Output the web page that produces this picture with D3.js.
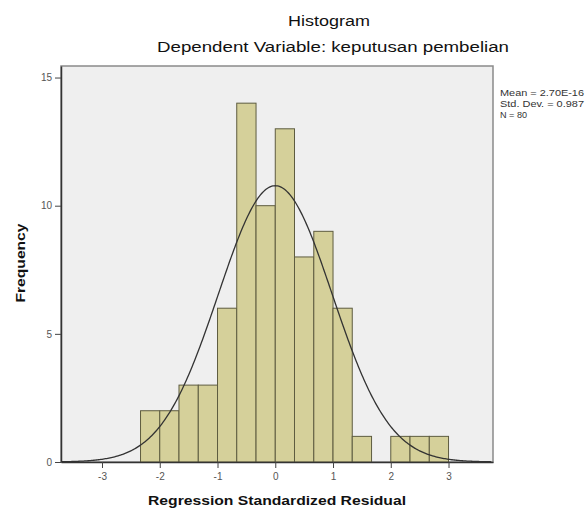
<!DOCTYPE html>
<meta charset="utf-8">
<script src="https://cdn.jsdelivr.net/npm/d3@7/dist/d3.min.js"></script>
<style>
body { margin: 0; background: #fff; }
text { font-family: Arial, "Liberation Sans", sans-serif; fill: #111; }
</style>
<body>
<script>

// bin edges (width 1/3) and frequencies
var binStart = [-2.333, -2, -1.667, -1.333, -1, -0.667, -0.333, 0, 0.333, 0.667, 1, 1.333, 1.667, 2, 2.333, 2.667];
var binEnd   = [-2, -1.667, -1.333, -1, -0.667, -0.333, 0, 0.333, 0.667, 1, 1.333, 1.667, 2, 2.333, 2.667, 3];
var counts   = [2, 2, 3, 3, 6, 14, 10, 13, 8, 9, 6, 1, 0, 1, 1, 1];
var xTicks = [-3, -2, -1, 0, 1, 2, 3];
var yTicks = [0, 5, 10, 15];
var statLines = ["Mean = 2.70E-16", "Std. Dev. = 0.987", "N = 80"];
var mean = 0, sd = 0.987, n = 80, binWidth = 1 / 3;

var width = 587, height = 511;
var svg = d3.select("body").append("svg")
    .attr("width", width)
    .attr("height", height);

var pLeft = 61, pRight = 493, pTop = 66, pBottom = 462;

var x = d3.scaleLinear().domain([-3.71, 3.77]).range([pLeft, pRight]);
var y = d3.scaleLinear().domain([0, 15.45]).range([pBottom, pTop]);

// panel
svg.append("rect")
    .attr("x", pLeft).attr("y", pTop)
    .attr("width", pRight - pLeft).attr("height", pBottom - pTop)
    .style("fill", "#efefef")
    .style("stroke", "#8a8a8a")
    .style("stroke-width", 1.5);

// bars
var bins = counts.map(function(c, i) { return {x0: binStart[i], x1: binEnd[i], c: c}; })
    .filter(function(d) { return d.c > 0; });

svg.append("g").selectAll("rect")
    .data(bins)
    .enter().append("rect")
    .attr("x", function(d) { return x(d.x0); })
    .attr("y", function(d) { return y(d.c); })
    .attr("width", function(d) { return x(d.x1) - x(d.x0); })
    .attr("height", function(d) { return y(0) - y(d.c); })
    .style("fill", "#d5d09a")
    .style("stroke", "#5e5c40")
    .style("stroke-width", 1);

// normal curve
var pts = d3.range(-3.7, 3.76, 0.02);
var line = d3.line()
    .x(function(d) { return x(d); })
    .y(function(d) {
        var z = (d - mean) / sd;
        return y(n * binWidth * Math.exp(-0.5 * z * z) / (sd * Math.sqrt(2 * Math.PI)));
    });

svg.append("path")
    .datum(pts)
    .attr("d", line)
    .style("fill", "none")
    .style("stroke", "#333")
    .style("stroke-width", 1.3);

// axes
var fmt = function(d) { return String(d); };
var xAxis = svg.append("g")
    .attr("transform", "translate(0," + pBottom + ")")
    .call(d3.axisBottom(x).tickValues(xTicks).tickFormat(fmt).tickSize(6).tickSizeOuter(0).tickPadding(5));
var yAxis = svg.append("g")
    .attr("transform", "translate(" + pLeft + ",0)")
    .call(d3.axisLeft(y).tickValues(yTicks).tickFormat(fmt).tickSize(6).tickSizeOuter(0).tickPadding(3));

[xAxis, yAxis].forEach(function(a) {
    a.select(".domain").style("stroke", "#333").style("stroke-width", 1.5);
    a.selectAll(".tick line").style("stroke", "#444");
    a.selectAll(".tick text").style("font-size", "10px").style("fill", "#555")
        .style("font-family", "Arial, 'Liberation Sans', sans-serif");
});

// titles
svg.append("text")
    .attr("x", 329).attr("y", 26)
    .attr("text-anchor", "middle")
    .attr("textLength", 82)
    .attr("lengthAdjust", "spacingAndGlyphs")
    .style("font-size", "14px")
    .text("Histogram");

svg.append("text")
    .attr("x", 333).attr("y", 52)
    .attr("text-anchor", "middle")
    .attr("textLength", 352)
    .attr("lengthAdjust", "spacingAndGlyphs")
    .style("font-size", "14px")
    .text("Dependent Variable: keputusan pembelian");

svg.append("text")
    .attr("x", 277).attr("y", 505)
    .attr("text-anchor", "middle")
    .attr("textLength", 258)
    .attr("lengthAdjust", "spacingAndGlyphs")
    .style("font-size", "12px")
    .style("font-weight", "bold")
    .text("Regression Standardized Residual");

svg.append("text")
    .attr("transform", "translate(25,263) rotate(-90)")
    .attr("text-anchor", "middle")
    .attr("textLength", 79)
    .attr("lengthAdjust", "spacingAndGlyphs")
    .style("font-size", "12px")
    .style("font-weight", "bold")
    .text("Frequency");

// stats legend
svg.append("g").selectAll("text")
    .data(statLines)
    .enter().append("text")
    .attr("x", 500)
    .attr("y", function(d, i) { return 96 + i * 11; })
    .attr("textLength", function(d, i) { return i < 2 ? 84 : 27; })
    .attr("lengthAdjust", "spacingAndGlyphs")
    .style("font-size", "8.5px")
    .style("fill", "#333")
    .text(function(d) { return d; });

</script>
</body>
